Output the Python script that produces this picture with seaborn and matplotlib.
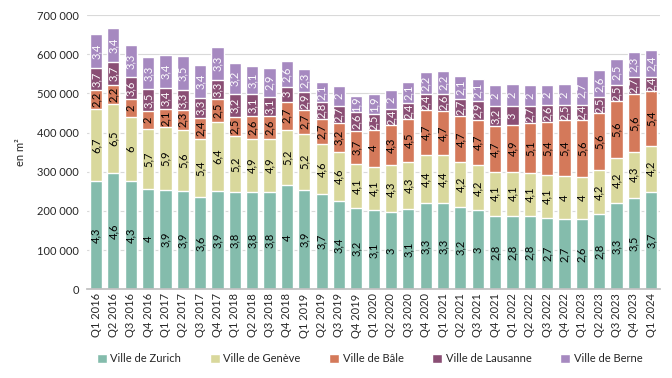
import pandas as pd
import matplotlib
matplotlib.use("Agg")
import matplotlib.pyplot as plt
import seaborn as sns
from matplotlib.patches import Patch
from matplotlib.ticker import FuncFormatter

# quarters
quarters = [f"Q{q} {y}" for y in range(2016, 2024) for q in range(1, 5)] + ["Q1 2024"]

cities = ["Ville de Zurich", "Ville de Genève", "Ville de Bâle", "Ville de Lausanne", "Ville de Berne"]

# surfaces (m2)
zurich = [277000, 297000, 277000, 257000, 254000, 252000, 235000, 252000,
          247000, 249000, 249000, 265000, 254000, 244000, 226000, 208000,
          201000, 196000, 206000, 219000, 219000, 211000, 201000, 188000,
          188000, 186000, 181000, 178000, 178000, 191000, 219000, 234000, 249000]
geneve = [183000, 176000, 164000, 152000, 159000, 155000, 149000, 176000,
          143000, 135000, 135000, 142000, 143000, 127000, 125000, 112000,
          112000, 120000, 119000, 123000, 123000, 114000, 115000, 112000,
          112000, 111000, 111000, 112000, 109000, 114000, 117000, 117000, 117000]
bale = [48000, 48000, 45000, 46000, 46000, 51000, 54000, 57000,
        51000, 58000, 58000, 72000, 61000, 63000, 74000, 84000,
        94000, 103000, 110000, 116000, 113000, 118000, 116000, 117000,
        119000, 128000, 136000, 141000, 145000, 146000, 145000, 147000, 140000]
lausanne = [57000, 59000, 56000, 56000, 55000, 50000, 51000, 49000,
            57000, 56000, 50000, 38000, 46000, 45000, 44000, 49000,
            40000, 40000, 41000, 40000, 43000, 44000, 49000, 51000,
            49000, 43000, 42000, 39000, 38000, 39000, 40000, 44000, 36000]
berne = [86000, 87000, 81000, 81000, 84000, 87000, 83000, 85000,
         80000, 71000, 72000, 65000, 58000, 50000, 50000, 40000,
         51000, 49000, 53000, 57000, 60000, 57000, 55000, 53000,
         56000, 53000, 51000, 54000, 74000, 69000, 66000, 63000, 68000]

# rates shown inside the segments
zurich_lbl = [4.3, 4.6, 4.3, 4, 3.9, 3.9, 3.6, 3.9, 3.8, 3.8, 3.8, 4, 3.9, 3.7, 3.4, 3.2,
              3.1, 3, 3.1, 3.3, 3.3, 3.2, 3, 2.8, 2.8, 2.8, 2.7, 2.7, 2.6, 2.8, 3.3, 3.5, 3.7]
geneve_lbl = [6.7, 6.5, 6, 5.7, 5.9, 5.6, 5.4, 6.4, 5.2, 4.9, 4.9, 5.2, 5.2, 4.6, 4.6, 4.1,
              4.1, 4.3, 4.3, 4.4, 4.4, 4.2, 4.2, 4.1, 4.1, 4.1, 4.1, 4, 4, 4.2, 4.2, 4.3, 4.2]
bale_lbl = [2.2, 2.2, 2, 2, 2.1, 2.3, 2.4, 2.5, 2.5, 2.6, 2.6, 2.7, 2.7, 2.7, 3.2, 3.7,
            4, 4.3, 4.5, 4.7, 4.7, 4.7, 4.7, 4.7, 4.9, 5.1, 5.4, 5.4, 5.6, 5.6, 5.6, 5.6, 5.4]
lausanne_lbl = [3.7, 3.7, 3.6, 3.5, 3.4, 3.3, 3.3, 3.3, 3.2, 3.1, 3.1, 3, 2.9, 2.8, 2.7, 2.6,
                2.5, 2.4, 2.4, 2.4, 2.6, 2.7, 2.9, 3.2, 3, 2.7, 2.6, 2.5, 2.4, 2.5, 2.5, 2.7, 2.4]
berne_lbl = [3.4, 3.4, 3.3, 3.3, 3.4, 3.5, 3.4, 3.3, 3.2, 3.1, 2.9, 2.6, 2.3, 2.1, 2, 1.9,
             1.9, 2, 2.1, 2.2, 2.2, 2.1, 2.1, 2, 2, 2, 2, 2, 2.7, 2.6, 2.5, 2.3, 2.4]

colors = ["#84bcac", "#d9d89c", "#d4795a", "#8a4e74", "#a689c0"]
text_colors = ["black", "black", "black", "white", "white"]

values = [zurich, geneve, bale, lausanne, berne]
labels = [zurich_lbl, geneve_lbl, bale_lbl, lausanne_lbl, berne_lbl]

df = pd.DataFrame({"quarter": quarters})
for c, v in zip(cities, values):
    df[c] = v
cum = df[cities].cumsum(axis=1)

sns.set_theme(style="white")
plt.rcParams["font.family"] = ["Lato", "DejaVu Sans"]

fig, ax = plt.subplots(figsize=(6.72, 3.78), dpi=100)
fig.subplots_adjust(left=0.13, right=0.982, top=0.96, bottom=0.235)

# draw stacked bars by overlaying cumulative totals, top layer first
for i in range(len(cities) - 1, -1, -1):
    sns.barplot(x=df["quarter"], y=cum[cities[i]], color=colors[i], saturation=1,
                width=0.7, errorbar=None, ax=ax, zorder=2)

# segment labels
for i, c in enumerate(cities):
    bottoms = cum[c] - df[c]
    for j in range(len(df)):
        txt = f"{labels[i][j]:g}".replace(".", ",")
        ax.text(j, bottoms[j] + df[c][j] / 2, txt, rotation=90, ha="center", va="center",
                fontsize=8, color=text_colors[i], zorder=3)

ax.set_ylim(0, 700000)
ax.set_yticks(range(0, 700001, 100000))
ax.yaxis.set_major_formatter(FuncFormatter(lambda v, p: f"{int(v):,}".replace(",", " ")))
ax.grid(axis="y", color="#d9d9d9", linewidth=0.8, zorder=0)
ax.set_axisbelow(True)
for s in ["top", "right", "left"]:
    ax.spines[s].set_visible(False)
ax.spines["bottom"].set_color("#bfbfbf")
ax.tick_params(axis="x", rotation=90, labelsize=8, length=0, pad=3)
ax.tick_params(axis="y", labelsize=8, length=3, color="#d9d9d9", pad=3)
ax.set_xlabel("")
ax.set_ylabel("en m²", fontsize=8, labelpad=8)

handles = [Patch(facecolor=col, label=c) for c, col in zip(cities, colors)]
fig.legend(handles=handles, loc="lower center", bbox_to_anchor=(0.55, 0.01), ncol=5,
           frameon=False, fontsize=8, handlelength=0.9, handleheight=0.9,
           handletextpad=0.3, columnspacing=2.6)

plt.savefig("out.png", dpi=100)
